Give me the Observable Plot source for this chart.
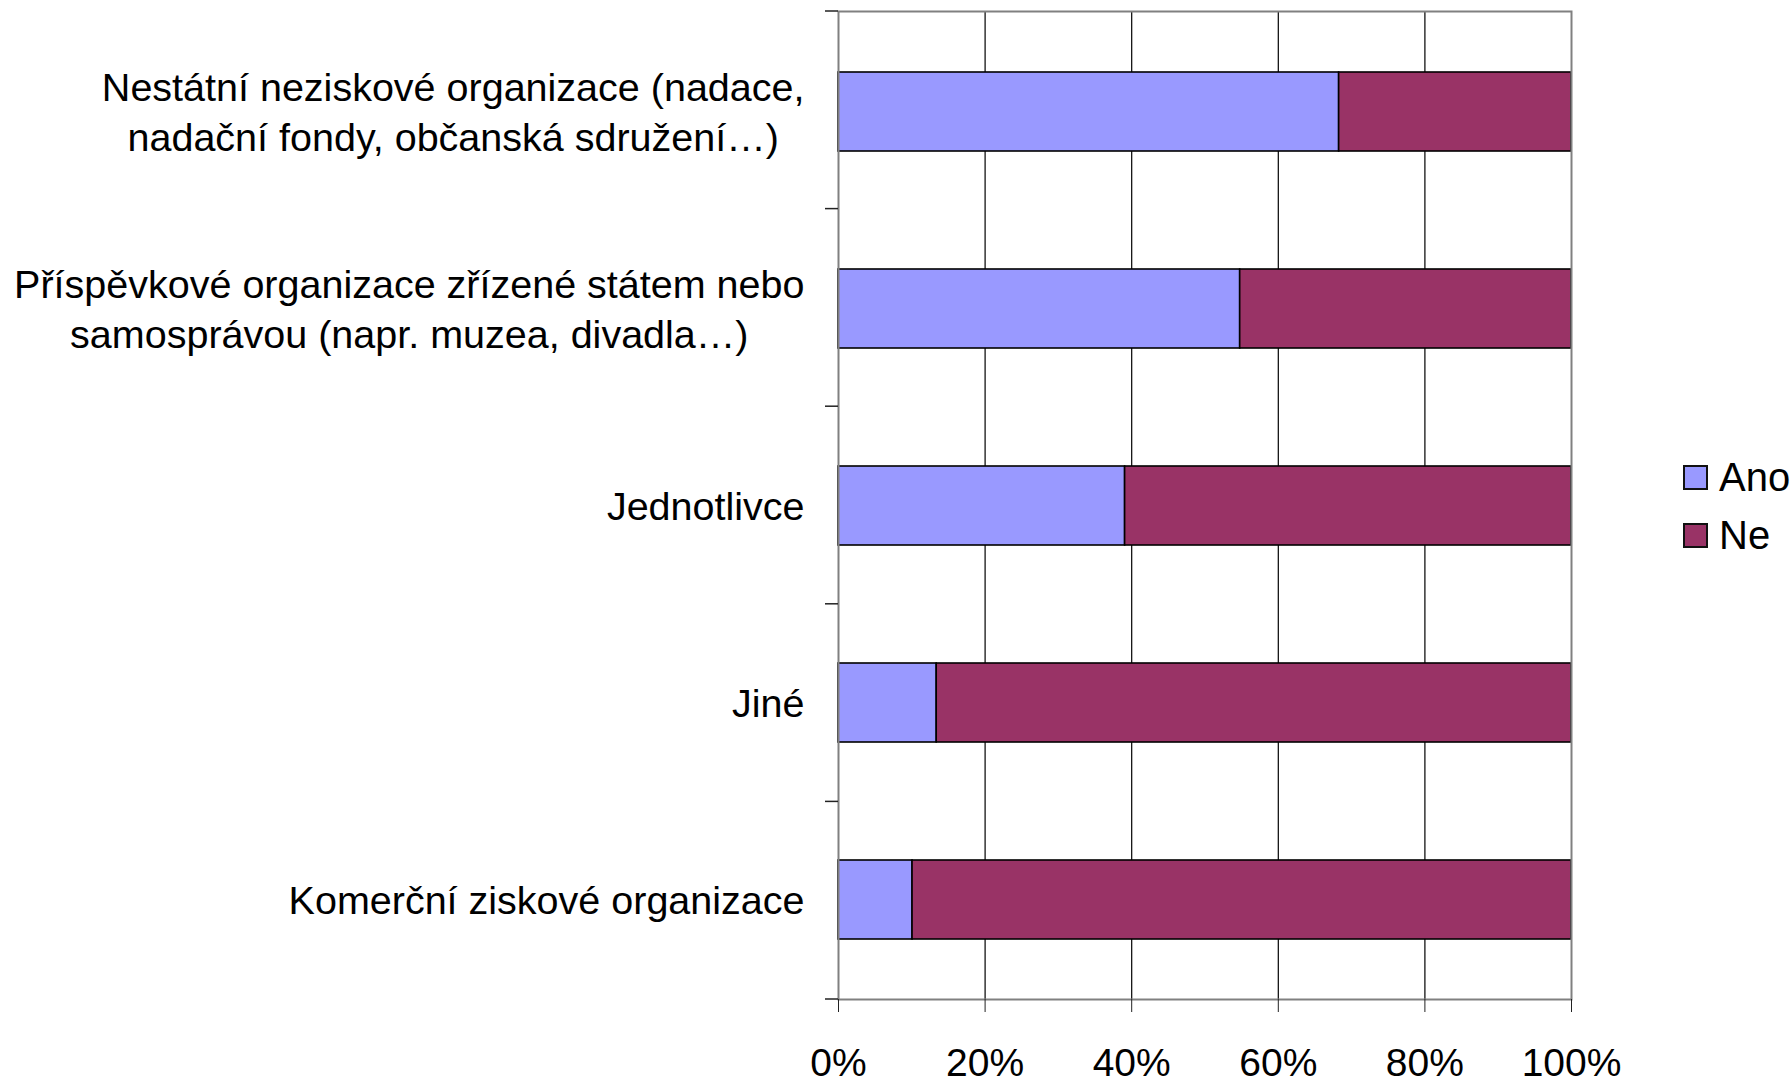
<!DOCTYPE html>
<html>
<head>
<meta charset="utf-8">
<script src="https://cdn.jsdelivr.net/npm/d3@7"></script>
<script src="https://cdn.jsdelivr.net/npm/@observablehq/plot@0.6"></script>
<style>
  html, body { margin: 0; padding: 0; background: #fff; }
  #wrap { position: relative; width: 1791px; height: 1078px; font-family: "Liberation Sans", Arial, sans-serif; }
  #legend { position: absolute; left: 1683px; top: 448px; font-size: 40px; color: #000; }
  .row { display: flex; align-items: center; height: 58px; }
  .sw { width: 21px; height: 21px; border: 2px solid #111; margin-right: 11px; }
</style>
</head>
<body>
<div id="wrap"></div>
<script>
const categories = [
  "Nestátní neziskové organizace (nadace,\nnadační fondy, občanská sdružení…)",
  "Příspěvkové organizace zřízené státem nebo\nsamosprávou (napr. muzea, divadla…)",
  "Jednotlivce",
  "Jiné",
  "Komerční ziskové organizace"
];
const seriesNames = ["Ano", "Ne"];
const anoValues = [68.3, 54.8, 39.1, 13.4, 10.1];
const neValues  = [31.7, 45.2, 60.9, 86.6, 89.9];
const seriesColors = ["#9999FF", "#993366"];
const xTicks = [0, 0.2, 0.4, 0.6, 0.8, 1];
const gridTicks = [0.2, 0.4, 0.6, 0.8];

const data = [];
categories.forEach((c, i) => {
  data.push({cat: c, series: "Ano", value: anoValues[i]});
  data.push({cat: c, series: "Ne", value: neValues[i]});
});

const catTicks = (index, scales, values, dimensions) => {
  const {marginTop, marginBottom, marginLeft, height} = dimensions;
  const inner = height - marginTop - marginBottom;
  const n = categories.length;
  const g = d3.create("svg:g");
  d3.range(n + 1).forEach(i => {
    const yy = marginTop + i * inner / n;
    g.append("line")
      .attr("x1", marginLeft - 13).attr("x2", marginLeft)
      .attr("y1", yy).attr("y2", yy)
      .attr("stroke", "#222").attr("stroke-width", 1.5);
  });
  return g.node();
};

const chart = Plot.plot({
  width: 1791,
  height: 1078,
  marginLeft: 838,
  marginRight: 220,
  marginTop: 11,
  marginBottom: 79,
  style: {fontFamily: "'Liberation Sans', Arial, sans-serif", background: "#fff", color: "#000"},
  x: {domain: [0, 1], axis: null},
  y: {domain: categories, type: "band", paddingInner: 0.6, paddingOuter: 0.3, axis: null},
  color: {domain: seriesNames, range: seriesColors},
  marks: [
    Plot.ruleX(gridTicks, {stroke: "#000", strokeWidth: 1.2}),
    Plot.barX(data, Plot.stackX({x: "value", y: "cat", fill: "series", offset: "normalize", stroke: "#000", strokeWidth: 1.6})),
    Plot.frame({stroke: "#808080", strokeWidth: 2}),
    catTicks,
    Plot.axisX({ticks: xTicks, tickFormat: d3.format(".0%"), tickSize: 13, tickPadding: 36, fontSize: 39, stroke: "#222", label: null}),
    Plot.text(categories, {x: () => 0, y: d => d, text: d => d, textAnchor: "end", dx: -34, dy: -2, fontSize: 39.5, lineHeight: 1.28, fill: "#000"})
  ]
});

const wrap = document.getElementById("wrap");
wrap.appendChild(chart);

// center multi-line labels within their block (block remains right-aligned)
chart.querySelectorAll("text").forEach(t => {
  const spans = t.querySelectorAll("tspan");
  if (spans.length > 1) {
    let w = 0;
    spans.forEach(s => { w = Math.max(w, s.getComputedTextLength()); });
    t.setAttribute("text-anchor", "middle");
    spans.forEach(s => { s.setAttribute("x", -w / 2); s.setAttribute("text-anchor", "middle"); });
  }
});

const legend = document.createElement("div");
legend.id = "legend";
seriesNames.forEach((s, i) => {
  const row = document.createElement("div");
  row.className = "row";
  const sw = document.createElement("div");
  sw.className = "sw";
  sw.style.background = seriesColors[i];
  const lab = document.createElement("span");
  lab.textContent = s;
  row.appendChild(sw);
  row.appendChild(lab);
  legend.appendChild(row);
});
wrap.appendChild(legend);
</script>
</body>
</html>
